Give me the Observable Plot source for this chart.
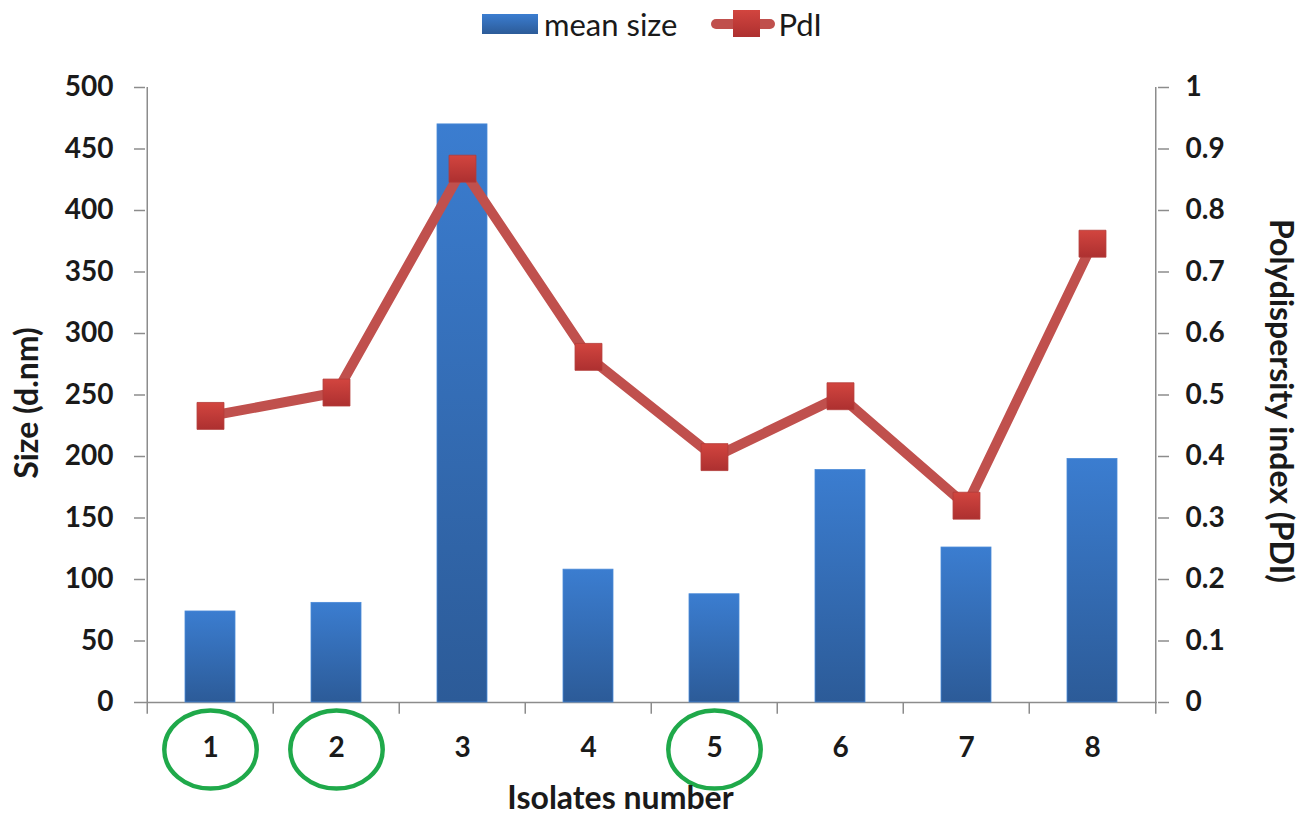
<!DOCTYPE html>
<html>
<head>
<meta charset="utf-8">
<script src="https://cdn.jsdelivr.net/npm/d3@7"></script>
<script src="https://cdn.jsdelivr.net/npm/@observablehq/plot@0.6"></script>
<style>
  html, body { margin: 0; padding: 0; background: #fff; }
  body { width: 1304px; height: 820px; overflow: hidden; font-family: Lato, "Open Sans", sans-serif; }
  #legend { height: 48px; display: flex; justify-content: center; align-items: center; color: #1a1a1a; font-size: 31px; }
  .item { display: flex; align-items: center; }
  .bar-sw { width: 56px; height: 20px; background: linear-gradient(#3b7dd0, #2c5b98); margin-right: 6px; }
  .line-sw { position: relative; width: 64px; height: 28px; margin-right: 3px; margin-left: 34px; }
  .line-sw .ln { position: absolute; left: 0; right: 0; top: 9px; height: 10px; border-radius: 5px; background: #c0504d; }
  .line-sw .sq { position: absolute; left: 22px; top: 0; width: 27px; height: 27px; background: linear-gradient(#d2453f, #ad3030); }
  #chart svg { display: block; }
</style>
</head>
<body>
<div id="legend"></div>
<div id="chart"></div>
<script>
// ---- data ----
const isolates = ["1", "2", "3", "4", "5", "6", "7", "8"];
const meanSize = [74, 81, 470, 108, 88, 189, 126, 198];
const pdi = [0.466, 0.504, 0.868, 0.562, 0.399, 0.498, 0.320, 0.746];
const circled = ["1", "2", "5"];
const sizeTicks = [0, 50, 100, 150, 200, 250, 300, 350, 400, 450, 500];
const seriesNames = ["mean size", "PdI"];

const SIZE_MAX = 500;   // left axis max
const PDI_MAX = 1;      // right axis max
const k = SIZE_MAX / PDI_MAX;

const data = isolates.map((iso, i) => ({isolate: iso, size: meanSize[i], pdi: pdi[i]}));

// ---- legend ----
const legend = document.getElementById("legend");
legend.innerHTML = `
  <div class="item"><span class="bar-sw"></span><span>${seriesNames[0]}</span></div>
  <div class="item"><span class="line-sw"><span class="ln"></span><span class="sq"></span></span><span>${seriesNames[1]}</span></div>`;

// ---- gradient defs as a function mark ----
function defsMark() {
  const ns = "http://www.w3.org/2000/svg";
  const g = document.createElementNS(ns, "defs");
  function grad(id, top, bottom) {
    const lg = document.createElementNS(ns, "linearGradient");
    lg.setAttribute("id", id);
    lg.setAttribute("x1", "0"); lg.setAttribute("y1", "0");
    lg.setAttribute("x2", "0"); lg.setAttribute("y2", "1");
    const s1 = document.createElementNS(ns, "stop");
    s1.setAttribute("offset", "0"); s1.setAttribute("stop-color", top);
    const s2 = document.createElementNS(ns, "stop");
    s2.setAttribute("offset", "1"); s2.setAttribute("stop-color", bottom);
    lg.appendChild(s1); lg.appendChild(s2);
    g.appendChild(lg);
  }
  grad("barGrad", "#3b7dd0", "#2c5b98");
  grad("mkGrad", "#d2453f", "#ad3030");
  return g;
}

// ellipse symbol
const ellipse = {
  draw(ctx, size) {
    const r = Math.sqrt(size / Math.PI);
    const rx = r * 1.1, ry = r * 0.93;
    const c = 0.5523;
    ctx.moveTo(rx, 0);
    ctx.bezierCurveTo(rx, ry * c, rx * c, ry, 0, ry);
    ctx.bezierCurveTo(-rx * c, ry, -rx, ry * c, -rx, 0);
    ctx.bezierCurveTo(-rx, -ry * c, -rx * c, -ry, 0, -ry);
    ctx.bezierCurveTo(rx * c, -ry, rx, -ry * c, rx, 0);
    ctx.closePath();
  }
};

const axisColor = "#8c8c8c";
const textColor = "#1a1a1a";
const step = (1304 - 145 - 147) / isolates.length;
const half = step / 2;
const tickDepth = -9.5; // in size units below zero

const chart = Plot.plot({
  width: 1304,
  height: 772,
  marginTop: 39,
  marginBottom: 118,
  marginLeft: 145,
  marginRight: 147,
  style: {fontFamily: "Lato, 'Open Sans', sans-serif", color: textColor, background: "#fff"},
  x: {type: "band", domain: isolates, paddingInner: 0.605, paddingOuter: 0.3025, axis: null},
  y: {domain: [0, SIZE_MAX], axis: null},
  marks: [
    defsMark,
    // bottom axis line
    Plot.ruleY([0], {stroke: axisColor, strokeWidth: 1.5}),
    // category boundary ticks
    Plot.ruleX(isolates.slice(1), {x: d => d, dx: -half, y1: tickDepth, y2: 0, stroke: axisColor, strokeWidth: 1.5}),
    // left & right axis lines (with their bottom ticks)
    Plot.ruleX([isolates[0]], {x: d => d, dx: -half, y1: tickDepth, y2: SIZE_MAX, stroke: axisColor, strokeWidth: 1.5}),
    Plot.ruleX([isolates[isolates.length - 1]], {x: d => d, dx: half, y1: tickDepth, y2: SIZE_MAX, stroke: axisColor, strokeWidth: 1.5}),
    // left axis
    Plot.axisY({anchor: "left", ticks: sizeTicks, tickSize: 11, tickPadding: 21, stroke: axisColor, strokeWidth: 1.5,
      fontSize: 28, fontWeight: "bold", fill: textColor, label: null}),
    // right axis (PDI)
    Plot.axisY({anchor: "right", ticks: sizeTicks, tickSize: 11, tickPadding: 17, stroke: axisColor, strokeWidth: 1.5,
      tickFormat: d => String(+(d / k).toFixed(2)), fontSize: 28, fontWeight: "bold", fill: textColor, label: null}),
    // bars
    Plot.barY(data, {x: "isolate", y: "size", fill: "url(#barGrad)", stroke: "#4a8ad8", strokeWidth: 0.8}),
    // PdI line
    Plot.line(data, {x: "isolate", y: d => d.pdi * k, stroke: "#c0504d", strokeWidth: 10, strokeLinejoin: "round"}),
    Plot.dot(data, {x: "isolate", y: d => d.pdi * k, symbol: "square", r: 15.2, fill: "url(#mkGrad)", stroke: "#b33b38", strokeWidth: 0.8}),
    // category labels
    Plot.text(isolates, {x: d => d, y: 0, dy: 46, text: d => d, fontSize: 28, fontWeight: "bold", fill: textColor}),
    // circles around selected isolates
    Plot.dot(circled, {x: d => d, y: 0, dy: 47, symbol: ellipse, r: 42, fill: "none", stroke: "#1fa94a", strokeWidth: 4.5}),
    // axis titles
    Plot.text(["Size (d.nm)"], {frameAnchor: "left", textAnchor: "middle", dx: -118, dy: 8, rotate: -90, text: d => d, fontSize: 32, fontWeight: "bold", fill: textColor}),
    Plot.text(["Polydispersity index (PDI)"], {frameAnchor: "right", textAnchor: "middle", dx: 123, dy: 6, rotate: 90, text: d => d, fontSize: 32, fontWeight: "bold", fill: textColor}),
    Plot.text(["Isolates number"], {frameAnchor: "bottom", dx: -31, dy: 106, text: d => d, fontSize: 32, fontWeight: "bold", fill: textColor})
  ]
});
document.getElementById("chart").appendChild(chart);
</script>
</body>
</html>
